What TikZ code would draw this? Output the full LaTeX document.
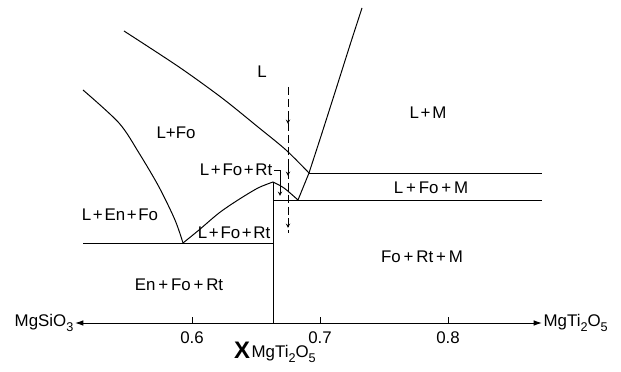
\documentclass[tikz,border=0pt]{standalone}
\usepackage{fontspec}
\setmainfont{Liberation Sans}
\usetikzlibrary{arrows.meta}
\newcommand{\dn}[1]{\raisebox{-0.55ex}{\fontsize{9}{9}\selectfont#1}}
\newcommand{\pl}{\kern0.1em+\kern0.1em}
\newcommand{\spl}{\kern0.17em+\kern0.17em}
\tikzset{
  phase/.style={font=\fontsize{12}{14}\selectfont, inner sep=1pt},
  bnd/.style={line width=0.7pt},
}
\begin{document}
\begin{tikzpicture}[x=0.025cm,y=-0.025cm,>=stealth]
  \useasboundingbox (0,0) rectangle (621,372);

  % invariant points
  \coordinate (eut) at (183,243);
  \coordinate (peak) at (273,182);
  \coordinate (perRt) at (298,200);
  \coordinate (perM) at (309,173);

  % liquidus and solidus curves
  \draw[bnd] plot[smooth] coordinates {(83,90) (119,123) (139,153) (159,187) (175,220) (eut)};
  \draw[bnd] plot[smooth] coordinates {(eut) (199,230) (219,213) (238,200) (258,188) (peak)};
  \draw[bnd] plot[smooth] coordinates {(peak) (284,188) (perRt)};
  \draw[bnd] (perRt) -- (perM);
  \draw[bnd] plot[smooth] coordinates {(124,31) (179,67) (222,98) (258,127) (286,150) (perM)};
  \draw[bnd] plot[smooth] coordinates {(perM) (322,133) (337,86) (350,45) (362,8)};

  % isotherms
  \draw[bnd] (perM) -- (542,173);
  \draw[bnd] (273,200) -- (542,200);
  \draw[bnd] (83,243) -- (273,243);
  \draw[bnd] (peak) -- (273,323);

  % composition axis
  \coordinate (axl) at (75,323);
  \coordinate (axr) at (542,323);
  \draw[bnd,{Latex[length=6pt,width=4pt]}-{Latex[length=6pt,width=4pt]}] (axl) -- (axr);
  \foreach \x/\v in {192/0.6, 320/0.7, 448/0.8} {
    \draw[bnd] (\x,323) -- (\x,317);
    \node[phase] (tick\x) at (\x,338) {\v};
  }
  \node[phase, anchor=east] (mgsio) at (axl) {MgSiO\dn{3}};
  \node[phase, anchor=west] (mgti) at (axr) {MgTi\dn{2}O\dn{5}};
  \node[font=\fontsize{17}{17}\selectfont\bfseries, inner sep=0pt] (xlab) at (242,350) {X};
  \node[phase, anchor=west] (xsub) at (250,354) {MgTi\dn{2}O\dn{5}};

  % cooling path
  \coordinate (dtop) at (288,87);
  \coordinate (dbot) at (288,233);
  \draw[dashed, dash pattern=on 6pt off 2.5pt] (dtop) -- (dbot);
  \foreach \y in {124,176,228}
    \draw[->] (288,\y-9) -- (288,\y);

  % phase fields
  \node[phase] (liq) at (262,72) {L};
  \node[phase] (lm) at (428,113) {L\pl M};
  \node[phase] (lfo) at (176,133) {L+Fo};
  \node[phase, anchor=east] (lfort) at (274,170) {L\pl Fo\pl Rt};
  \node[phase] (lfom) at (431,188) {L\spl Fo\spl M};
  \node[phase] (lenfo) at (120,215) {L\pl En\pl Fo};
  \node[phase, anchor=east] (lfortb) at (272,233) {L\pl Fo\pl Rt};
  \node[phase] (form) at (422,257) {Fo\spl Rt\spl M};
  \node[phase] (enfort) at (179,285) {En\spl Fo\spl Rt};

  \coordinate (hook) at (280,196);
  \draw[->] (lfort.east) -| (hook);
\end{tikzpicture}
\end{document}
